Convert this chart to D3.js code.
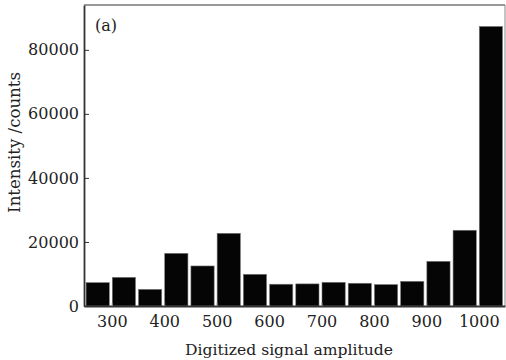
<!DOCTYPE html>
<html><head><meta charset="utf-8">
<script src="https://cdn.jsdelivr.net/npm/d3@7"></script>
<style>body{margin:0;background:#fff}svg{display:block}text{font-family:"DejaVu Serif",serif;fill:#222}</style>
</head><body>
<svg id="c" width="506" height="360"></svg>
<script>
const binStarts = [250,300,350,400,450,500,550,600,650,700,750,800,850,900,950,1000];
const binWidth = 50;
const counts = [7300,8950,5200,16450,12500,22700,9900,6800,6900,7400,7100,6700,7700,13950,23650,87300];
const xTicks = [300,400,500,600,700,800,900,1000];
const yTicks = [0,20000,40000,60000,80000];
const FS = 16;

const svg = d3.select("#c");
const L=84, R=505, T=5, B=306;
const x = d3.scaleLinear().domain([247,1050]).range([L,R]);
const y = d3.scaleLinear().domain([0,94000]).range([B,T]);

svg.selectAll("rect.bar").data(binStarts).enter().append("rect")
  .attr("class","bar")
  .attr("x",(d)=>x(d)+0.5)
  .attr("width",(d)=>x(d+binWidth)-x(d)-3)
  .attr("y",(d,i)=>y(counts[i]))
  .attr("height",(d,i)=>B-y(counts[i]))
  .attr("fill","#050505").attr("stroke","#777").attr("stroke-width",0.6);

svg.append("line").attr("x1",L).attr("x2",R).attr("y1",T).attr("y2",T).attr("stroke","#777").attr("stroke-width",1.5);
svg.append("line").attr("x1",R).attr("x2",R).attr("y1",T).attr("y2",B).attr("stroke","#888").attr("stroke-width",1);

const xa = svg.append("g").attr("transform",`translate(0,${B})`)
  .call(d3.axisBottom(x).tickValues(xTicks).tickSizeInner(-3).tickSizeOuter(0).tickPadding(10).tickFormat(d3.format("d")));
xa.attr("font-family",null).attr("font-size",null);
xa.select(".domain").attr("stroke","#333").attr("stroke-width",1.8);
xa.selectAll(".tick line").attr("stroke","#888");
xa.selectAll("text").style("font-size",FS+"px");

const ya = svg.append("g").attr("transform",`translate(${L},0)`)
  .call(d3.axisLeft(y).tickValues(yTicks).tickSizeInner(-5).tickSizeOuter(0).tickPadding(5).tickFormat(d3.format("d")));
ya.attr("font-family",null).attr("font-size",null);
ya.select(".domain").attr("stroke","#333").attr("stroke-width",1.8);
ya.selectAll(".tick line").attr("stroke","#333");
ya.selectAll("text").style("font-size",FS+"px");

function fit(t, target){
  const fs = 17;
  t.style("font-size",fs+"px");
  const w = t.node().getComputedTextLength();
  if (w > 0) t.style("font-size",(fs*target/w).toFixed(2)+"px");
}
const xl = svg.append("text").attr("x",289).attr("y",355).attr("text-anchor","middle").text("Digitized signal amplitude");
fit(xl, 208);
const yl = svg.append("text").attr("transform",`translate(20,142.5) rotate(-90)`).attr("text-anchor","middle").text("Intensity /counts");
fit(yl, 141);
svg.append("text").attr("x",95).attr("y",31).style("font-size","16px").text("(a)");
</script>
</body></html>
